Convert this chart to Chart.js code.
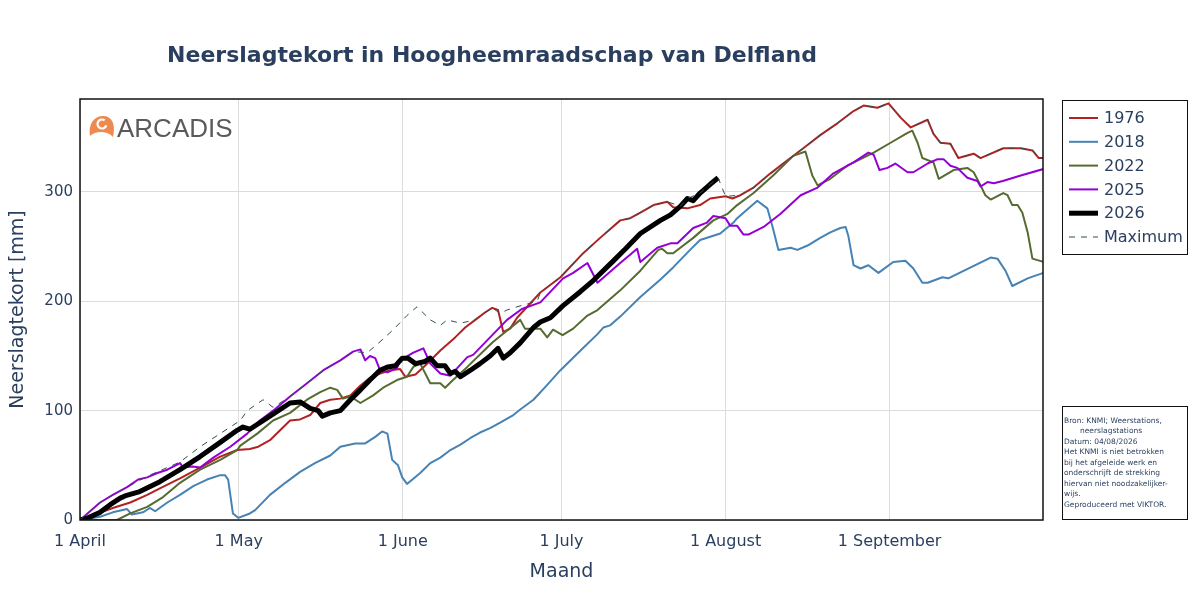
<!DOCTYPE html>
<html>
<head>
<meta charset="utf-8">
<script src="https://cdn.jsdelivr.net/npm/chart.js@4.4.1/dist/chart.umd.min.js"></script>
<style>
  body { margin: 0; background: #fff; }
</style>
</head>
<body>
<canvas id="myChart" width="1200" height="600"></canvas>
<script>
// ticks on the x axis: day number since 1 April
const monthDays = [0, 30, 61, 91, 122, 153];
const monthLabels = ['1 April', '1 May', '1 June', '1 July', '1 August', '1 September'];
const yTicks = [0, 100, 200, 300];

// 1976
const days1976 = [0, 6.2, 9.5, 12.7, 15.1, 18.9, 22.7, 26.5, 29.7, 32.1, 33.7, 35.9, 39.7, 41.6, 43.5, 45.4, 47.3, 49.2, 51.1, 53, 54.8, 56.7, 58.6, 60.5, 61.5, 63.4, 65.2, 68.1, 70.9, 72.8, 74.7, 76.6, 77.9, 79, 80, 81.3, 82.6, 87, 90.8, 95.1, 98.3, 102.1, 104, 105.9, 108.4, 111, 112.1, 114.8, 117.2, 119.1, 122, 123.3, 124.8, 127.3, 130.5, 133.7, 136.7, 139.9, 143.2, 146.2, 148.1, 150.7, 152.8, 155.1, 157, 160.2, 161.3, 162.6, 164.5, 166, 168.9, 170.2, 174.5, 177.8, 180, 181.2, 182.1];
const vals1976 = [0, 11, 16, 23, 29, 38, 48, 58, 64, 65, 67, 73, 91, 92, 96, 107, 110, 111, 114, 123, 130, 134, 137, 138, 131, 133, 141, 155, 167, 176, 183, 190, 194, 192, 172, 175, 185, 208, 222, 244, 258, 274, 276, 281, 288, 291, 286, 285, 288, 294, 296, 294, 297, 304, 317, 329, 340, 352, 363, 374, 379, 377, 381, 368, 359, 366, 353, 345, 344, 331, 335, 331, 340, 340, 338, 331, 331];

// 2018
const days2018 = [0, 3.8, 6.2, 8.9, 9.8, 11.9, 13.2, 14.2, 16.5, 18.9, 21.4, 24, 26.5, 27.4, 28, 28.9, 29.9, 32.1, 33.1, 35.9, 38.8, 41.6, 44.4, 47.3, 49.2, 52, 53.9, 55.8, 57.1, 58.1, 59, 60.1, 60.9, 61.8, 64.3, 66.2, 68.1, 70, 71.9, 73.8, 75.6, 77.5, 79.4, 81.9, 83.2, 85.7, 88, 90.8, 94.6, 97.8, 98.9, 100.2, 102.1, 105.9, 109.7, 112.1, 115.3, 117.2, 119.7, 121, 123.5, 124.2, 128, 129.9, 130.9, 132, 134.3, 135.6, 137.5, 139.9, 141.8, 143.7, 144.7, 145.2, 146.2, 147.5, 149, 150.9, 153.7, 156, 157.5, 159.2, 160.2, 163, 164.1, 172.1, 173.4, 174.9, 176.2, 179.1, 182.1];
const vals2018 = [0, 3, 7, 10, 5, 7, 11, 8, 16, 23, 31, 37, 41, 41, 37, 6, 2, 6, 9, 23, 34, 44, 52, 59, 67, 70, 70, 76, 81, 79, 55, 50, 39, 33, 43, 52, 57, 64, 69, 75, 80, 84, 89, 96, 101, 110, 122, 137, 155, 170, 176, 178, 186, 204, 220, 231, 247, 256, 260, 262, 272, 276, 292, 285, 268, 247, 249, 247, 251, 258, 263, 267, 268, 260, 233, 230, 233, 226, 236, 237, 230, 217, 217, 222, 221, 240, 239, 228, 214, 221, 226];

// 2022
const days2022 = [0, 7, 9.5, 12.7, 15.7, 18.9, 22.7, 26.5, 29.7, 30.3, 33.5, 36.5, 39.7, 42.9, 45.4, 47.3, 48.6, 49.7, 51.1, 53, 55.4, 57.3, 59.9, 61.8, 63, 64.3, 66.2, 68.1, 69, 70.5, 73.2, 77, 78.1, 83.2, 84.1, 87, 88.3, 89.4, 91.2, 93.2, 95.9, 97.8, 102.1, 105.9, 109.3, 110, 111, 112.1, 115.9, 119.7, 122.4, 124.2, 127.3, 131, 134.8, 137.1, 138.4, 139.4, 141.8, 145, 147.5, 150, 153.2, 156.4, 157.3, 158.3, 159.2, 161.3, 162.3, 165.1, 167.7, 168.9, 170.2, 171.1, 172.1, 174.5, 175.3, 176.2, 177.2, 178.1, 179.1, 180, 182.1];
const vals2022 = [0, 0, 6, 12, 21, 34, 46, 55, 64, 68, 79, 91, 98, 110, 117, 121, 119, 111, 113, 107, 114, 121, 128, 131, 140, 143, 125, 125, 121, 128, 140, 158, 163, 183, 175, 175, 167, 174, 169, 175, 187, 192, 210, 228, 247, 248, 244, 244, 258, 274, 280, 288, 299, 315, 333, 337, 315, 306, 312, 324, 330, 336, 345, 354, 356, 345, 331, 327, 312, 320, 322, 318, 306, 297, 293, 299, 297, 288, 288, 281, 263, 239, 236];

// 2025
const days2025 = [0, 3.8, 6.2, 8.9, 11, 12.7, 14.6, 16.5, 18.9, 19.5, 21.2, 22.7, 25.2, 28.4, 31.6, 34, 36.5, 39.7, 42.9, 46, 49.2, 51.6, 53, 53.9, 54.8, 55.8, 56.7, 58.1, 59.9, 60.5, 63, 64.9, 66.2, 68.1, 70, 73.2, 74.3, 80.7, 83.5, 87, 91.3, 93.2, 95.9, 97.8, 102.1, 105.3, 105.9, 109.1, 111.6, 112.9, 115.9, 118.5, 119.7, 122, 122.9, 124.2, 125.4, 126.3, 129.2, 132.4, 136.2, 139.4, 142.4, 146.2, 149, 150, 151.1, 152.6, 154.1, 156.4, 157.5, 160.2, 162.1, 163.2, 164.5, 165.8, 167.7, 169.6, 170.2, 171.5, 172.7, 174.4, 177.8, 182.1];
const vals2025 = [0, 16, 23, 30, 37, 39, 43, 46, 52, 48, 49, 48, 57, 67, 79, 91, 100, 113, 125, 137, 146, 154, 156, 146, 150, 148, 137, 135, 139, 146, 153, 157, 143, 134, 132, 149, 151, 183, 193, 199, 221, 226, 235, 217, 235, 248, 236, 249, 253, 253, 267, 272, 278, 276, 269, 269, 261, 261, 268, 280, 297, 304, 317, 327, 336, 334, 320, 322, 326, 318, 318, 326, 330, 330, 324, 322, 313, 310, 305, 309, 308, 310, 315, 321];

// 2026 (runs until end of July)
const days2026 = [0, 1.5, 3.8, 5.7, 7.6, 8.5, 11.3, 15.1, 18.9, 22.7, 26.5, 29.7, 30.8, 32.1, 35.9, 39.7, 41.6, 43.5, 45, 45.8, 47.3, 49.2, 51.1, 53, 54.8, 56.7, 58.2, 59.6, 60.9, 62, 63.4, 65.2, 66.2, 67.5, 69, 70, 70.9, 71.9, 73.8, 75.6, 77.5, 79, 80, 81.3, 83.2, 85.7, 87, 88.9, 91.3, 94.6, 97, 100.8, 103.1, 105.9, 109.7, 111.6, 113.5, 114.8, 115.9, 117.2, 119.1, 120.6];
const vals2026 = [0, 2, 7, 14, 20, 22, 26, 35, 46, 58, 71, 82, 85, 83, 95, 107, 108, 102, 100, 95, 98, 100, 110, 119, 128, 137, 140, 141, 148, 148, 143, 145, 148, 141, 141, 134, 136, 131, 137, 143, 150, 157, 148, 153, 162, 176, 181, 185, 196, 209, 219, 237, 248, 262, 274, 279, 287, 294, 292, 299, 307, 313];

// Maximum over all years
const daysMax = [0, 3.8, 6.2, 8.9, 12.7, 14.6, 18.9, 22.7, 26.5, 30.3, 31.6, 34.6, 36.5, 37.8, 39.7, 42.9, 46, 49.2, 51.6, 54.3, 56.7, 59.2, 61.8, 63.7, 66.2, 68.1, 69.4, 71.9, 74.7, 77.9, 79.4, 80.7, 82.6, 86.4, 87, 90.8, 95.1, 98.3, 102.1, 104, 105.9, 108.4, 111, 113.5, 114.8, 117.2, 119.1, 120.6, 122, 124.8, 127.3, 130.5, 133.7, 136.7, 139.9, 143.2, 146.2, 148.1, 150.7, 152.8, 155.1, 157, 160.2, 161.3, 162.6, 164.5, 166, 168.9, 170.2, 174.5, 177.8, 180, 181.2, 182.1];
const valsMax = [0, 16, 23, 30, 40, 44, 53, 67, 79, 91, 100, 110, 103, 107, 113, 125, 137, 146, 154, 153, 163, 174, 187, 195, 183, 178, 183, 180, 183, 194, 189, 192, 195, 200, 208, 222, 244, 258, 274, 276, 281, 288, 291, 287, 294, 299, 307, 313, 296, 297, 304, 317, 329, 340, 352, 363, 374, 379, 377, 381, 368, 359, 366, 353, 345, 344, 331, 335, 331, 340, 340, 338, 331, 331];

const txtColor = '#2a3f5f';

function pts(days, vals) {
  return days.map((d, i) => ({ x: d, y: vals[i] }));
}

const noteLines = [
  ['Bron: KNMI; Weerstations,', 0],
  ['neerslagstations', 16],
  ['Datum: 04/08/2026', 0],
  ['Het KNMI is niet betrokken', 0],
  ['bij het afgeleide werk en', 0],
  ['onderschrijft de strekking', 0],
  ['hiervan niet noodzakelijker-', 0],
  ['wijs.', 0],
  ['Geproduceerd met VIKTOR.', 0]
];

// title, frame, legend, note box and logo
const extrasPlugin = {
  id: 'extras',
  afterDraw(chart) {
    const c = chart.ctx;
    const a = chart.chartArea;
    c.save();

    // frame round the plot
    c.strokeStyle = '#111';
    c.lineWidth = 1.5;
    c.strokeRect(a.left, a.top, a.right - a.left, a.bottom - a.top);

    // title
    c.fillStyle = txtColor;
    c.font = 'bold 22px "DejaVu Sans"';
    c.textAlign = 'center';
    c.textBaseline = 'middle';
    c.fillText('Neerslagtekort in Hoogheemraadschap van Delfland', 492, 56);

    // legend
    c.strokeStyle = '#111';
    c.lineWidth = 1;
    c.strokeRect(1062.5, 100.5, 125, 154);
    c.font = '16px "DejaVu Sans"';
    c.textAlign = 'left';
    chart.data.datasets.forEach((ds, i) => {
      const y = 118 + i * 23.8;
      c.beginPath();
      c.strokeStyle = ds.borderColor;
      c.lineWidth = ds.borderWidth;
      c.setLineDash(ds.borderDash || []);
      c.moveTo(1069, y);
      c.lineTo(1098, y);
      c.stroke();
      c.setLineDash([]);
      c.fillStyle = txtColor;
      c.fillText(ds.label, 1104, y + 1);
    });

    // source note
    c.strokeStyle = '#111';
    c.lineWidth = 1;
    c.strokeRect(1062.5, 406.5, 125, 113);
    c.font = '7.5px "DejaVu Sans"';
    c.fillStyle = txtColor;
    noteLines.forEach((ln, i) => {
      c.fillText(ln[0], 1064 + ln[1], 421 + i * 10.45);
    });

    // logo
    c.fillStyle = '#ee8a4f';
    c.beginPath();
    c.moveTo(90, 136);
    c.bezierCurveTo(88, 124, 94, 116, 103, 116);
    c.bezierCurveTo(112, 116, 116, 124, 113, 137);
    c.bezierCurveTo(108, 131, 96, 130, 90, 136);
    c.fill();
    c.strokeStyle = '#fff';
    c.lineWidth = 2.2;
    c.beginPath();
    c.arc(102, 124, 4.5, Math.PI * 0.1, Math.PI * 1.7, false);
    c.stroke();
    c.fillStyle = '#5a5a5c';
    c.font = '26px "Liberation Sans"';
    c.textBaseline = 'alphabetic';
    c.fillText('ARCADIS', 117, 137);

    c.restore();
  }
};

const ctx = document.getElementById('myChart').getContext('2d');
const chart = new Chart(ctx, {
  type: 'line',
  data: {
    datasets: [
      { label: '1976', data: pts(days1976, vals1976), borderColor: '#b22222', borderWidth: 2, order: 5 },
      { label: '2018', data: pts(days2018, vals2018), borderColor: '#4682b4', borderWidth: 2, order: 4 },
      { label: '2022', data: pts(days2022, vals2022), borderColor: '#556b2f', borderWidth: 2, order: 3 },
      { label: '2025', data: pts(days2025, vals2025), borderColor: '#9400d3', borderWidth: 2, order: 2 },
      { label: '2026', data: pts(days2026, vals2026), borderColor: '#000000', borderWidth: 5, order: 1 },
      { label: 'Maximum', data: pts(daysMax, valsMax), borderColor: '#2f4f4f', borderWidth: 1, borderDash: [6, 6], order: 0 }
    ]
  },
  options: {
    responsive: false,
    animation: false,
    events: [],
    elements: {
      point: { radius: 0 },
      line: { tension: 0, fill: false, borderJoinStyle: 'round' }
    },
    layout: { padding: { top: 99, right: 157, left: 0, bottom: 0 } },
    plugins: {
      legend: { display: false },
      title: { display: false },
      tooltip: { enabled: false }
    },
    scales: {
      x: {
        type: 'linear',
        min: 0,
        max: 182,
        afterBuildTicks: (s) => { s.ticks = monthDays.map(v => ({ value: v })); },
        afterFit: (s) => { s.height = 80; },
        grid: { color: '#dcdcdc', lineWidth: 1, drawTicks: false },
        border: { display: false },
        ticks: {
          padding: 12,
          color: txtColor,
          font: { family: 'DejaVu Sans', size: 16 },
          maxRotation: 0,
          autoSkip: false,
          callback: (v) => monthLabels[monthDays.indexOf(v)]
        },
        title: {
          display: true,
          text: 'Maand',
          color: txtColor,
          font: { family: 'DejaVu Sans', size: 19 },
          padding: { top: 0, bottom: 17 }
        }
      },
      y: {
        min: 0,
        max: 385,
        afterBuildTicks: (s) => { s.ticks = yTicks.map(v => ({ value: v })); },
        afterFit: (s) => { s.width = 80; },
        grid: { color: '#dcdcdc', lineWidth: 1, drawTicks: false },
        border: { display: false },
        ticks: {
          padding: 7,
          color: txtColor,
          font: { family: 'DejaVu Sans', size: 15 }
        },
        title: {
          display: true,
          text: 'Neerslagtekort [mm]',
          color: txtColor,
          font: { family: 'DejaVu Sans', size: 19 },
          padding: { top: 7, bottom: 0 }
        }
      }
    }
  },
  plugins: [extrasPlugin]
});
</script>
</body>
</html>
